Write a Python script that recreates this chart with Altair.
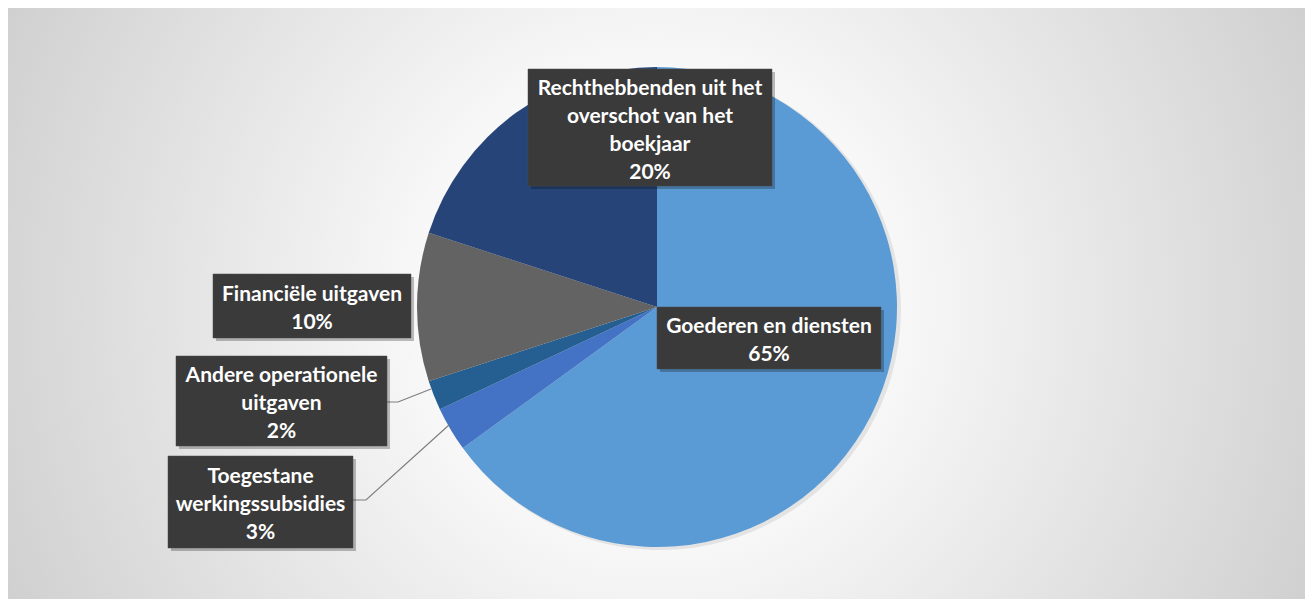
import altair as alt
import pandas as pd

# ---- data ----
categories = [
    "Goederen en diensten",
    "Toegestane werkingssubsidies",
    "Andere operationele uitgaven",
    "Financiële uitgaven",
    "Rechthebbenden uit het overschot van het boekjaar",
]
shares = [65, 3, 2, 10, 20]
colors = ["#5B9BD5", "#4472C4", "#255E91", "#636363", "#264478"]
label_text = [
    "Goederen en diensten",
    "Toegestane\nwerkingssubsidies",
    "Andere operationele\nuitgaven",
    "Financiële uitgaven",
    "Rechthebbenden uit het\noverschot van het\nboekjaar",
]

# ---- layout (annotation boxes, pixels in chart coords) ----
W, H = 1297, 591
CX, CY, R = 649, 299, 240
LH = 28
box_x = [649, 160, 168, 205, 520]
box_x2 = [873, 345, 379, 403, 764]
box_y = [299, 448, 348, 266, 61]
box_y2 = [361, 540, 438, 330, 178]
leader_pts = [
    ("Andere", 379, 394), ("Andere", 390, 394), ("Andere", 423, 381),
    ("Toeg", 345, 492), ("Toeg", 358, 492), ("Toeg", 441, 417),
]

pie_df = pd.DataFrame({"cat": categories, "share": shares, "idx": list(range(len(shares)))})

full_text = [f"{t}\n{s}%" for t, s in zip(label_text, shares)]
lab_df = pd.DataFrame({
    "cat": categories,
    "text": full_text,
    "x": box_x, "x2": box_x2, "y": box_y, "y2": box_y2,
})
lab_df["n"] = [t.count("\n") + 1 for t in full_text]
lab_df["cx"] = (lab_df["x"] + lab_df["x2"]) / 2
lab_df["cy"] = (lab_df["y"] + lab_df["y2"]) / 2 - (lab_df["n"] - 1) * LH / 2 + 3
lab_df["sx"] = lab_df["x"] + 3
lab_df["sx2"] = lab_df["x2"] + 3
lab_df["sy"] = lab_df["y"] + 3
lab_df["sy2"] = lab_df["y2"] + 3

lead_df = pd.DataFrame(leader_pts, columns=["g", "x", "y"])
lead_df["o"] = range(len(lead_df))

bg = alt.Chart(pd.DataFrame({"a": [0]})).mark_rect(
    fill={
        "gradient": "radial",
        "x1": 0.5, "y1": 0.5, "r1": 0,
        "x2": 0.5, "y2": 0.5, "r2": 0.72,
        "stops": [
            {"offset": 0, "color": "#ffffff"},
            {"offset": 0.2, "color": "#fcfcfc"},
            {"offset": 1, "color": "#bdbdbd"},
        ],
    }
).encode(x=alt.value(-4), x2=alt.value(W + 4), y=alt.value(-4), y2=alt.value(H + 4))

pie_shadow = alt.Chart(pie_df).mark_arc(outerRadius=R + 1, opacity=0.08, fill="#000000").encode(
    theta=alt.Theta("share:Q", stack=True),
    order=alt.Order("idx:Q"),
    x=alt.value(CX + 3), y=alt.value(CY + 2),
)

pie = alt.Chart(pie_df).mark_arc(outerRadius=R).encode(
    theta=alt.Theta("share:Q", stack=True),
    order=alt.Order("idx:Q"),
    color=alt.Color("cat:N", scale=alt.Scale(domain=categories, range=colors), legend=None),
    x=alt.value(CX), y=alt.value(CY),
)

leaders = alt.Chart(lead_df).mark_line(color="#7f7f7f", strokeWidth=1.2).encode(
    x=alt.X("x:Q", scale=None), y=alt.Y("y:Q", scale=None),
    detail="g:N", order="o:Q",
)

shadows = alt.Chart(lab_df).mark_rect(fill="#000000", opacity=0.25).encode(
    x=alt.X("sx:Q", scale=None), x2="sx2:Q",
    y=alt.Y("sy:Q", scale=None), y2="sy2:Q",
)

boxes = alt.Chart(lab_df).mark_rect(fill="#3a3a3a", stroke="#4a4a4a", strokeWidth=0.5).encode(
    x=alt.X("x:Q", scale=None), x2="x2:Q",
    y=alt.Y("y:Q", scale=None), y2="y2:Q",
)

texts = alt.Chart(lab_df).mark_text(
    color="#ffffff", font="Lato", fontWeight="bold", fontSize=21,
    lineBreak="\n", lineHeight=LH, align="center", baseline="middle",
).encode(
    x=alt.X("cx:Q", scale=None), y=alt.Y("cy:Q", scale=None), text="text:N",
)

chart = alt.layer(bg, pie_shadow, pie, leaders, shadows, boxes, texts).properties(
    width=W, height=H, padding=0, autosize=alt.AutoSizeParams(type="none"),
).configure_view(stroke=None)

chart.save("out.html", embed_options={"renderer": "svg", "actions": False})
